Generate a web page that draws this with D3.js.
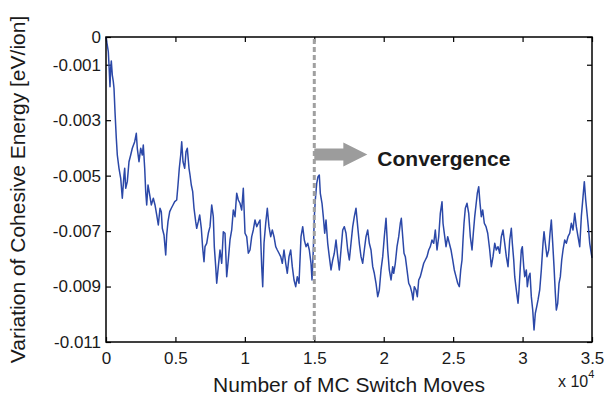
<!DOCTYPE html>
<html>
<head>
<meta charset="utf-8">
<script src="https://cdn.jsdelivr.net/npm/d3@7"></script>
<style>
  body { margin: 0; background: #fff; }
  svg { display: block; font-family: "Liberation Sans", Arial, Helvetica, sans-serif; }
</style>
</head>
<body>
<svg id="chart" width="604" height="397"></svg>
<script>
// MC switch moves
const moves = [
  0,166,216,288,338,382,454,526,576,648,
  742,814,936,1059,1174,1296,1347,1419,1534,1656,
  1779,1894,2067,2182,2254,2377,2499,2614,2686,2787,
  2859,2931,3025,3147,3262,3407,3529,3651,3767,3889,
  3983,4055,4177,4300,4372,4465,4588,4703,4825,4948,
  5092,5185,5279,5380,5452,5546,5668,5762,5855,5978,
  6050,6143,6244,6338,6460,6532,6647,6748,6864,6964,
  7058,7130,7252,7368,7490,7612,7728,7800,7901,7973,
  8088,8210,8333,8448,8570,8693,8808,8930,9053,9168,
  9291,9413,9528,9651,9773,9888,10011,10133,10249,10371,
  10493,10609,10731,10853,10969,11091,11214,11286,11379,11502,
  11617,11739,11862,11977,12099,12222,12337,12459,12582,12697,
  12819,12942,13057,13180,13302,13417,13540,13662,13777,13900,
  14044,14166,14282,14404,14526,14642,14764,14836,14930,15002,
  15074,15175,15268,15362,15434,15556,15650,15751,15844,15967,
  16082,16205,16327,16442,16565,16687,16802,16925,17047,17163,
  17285,17407,17523,17645,17767,17883,18005,18127,18243,18365,
  18487,18603,18725,18848,18963,19085,19208,19323,19445,19568,
  19683,19806,19928,20043,20166,20288,20403,20526,20648,20720,
  20835,20958,21080,21196,21268,21368,21462,21556,21678,21800,
  21916,22038,22110,22204,22326,22420,22521,22636,22758,22881,
  22996,23118,23241,23356,23478,23601,23716,23839,23961,24076,
  24199,24271,24364,24487,24609,24724,24847,24969,25084,25207,
  25329,25445,25546,25639,25711,25783,25877,25999,26122,26237,
  26359,26453,26554,26647,26741,26842,26935,27029,27130,27245,
  27368,27490,27634,27749,27872,27994,28109,28232,28354,28469,
  28592,28714,28830,28952,29074,29190,29262,29363,29435,29550,
  29672,29744,29838,29910,29982,30083,30155,30270,30342,30443,
  30536,30630,30731,30825,30918,31019,31113,31235,31350,31473,
  31545,31639,31761,31883,31977,32071,32171,32265,32359,32431,
  32531,32625,32719,32819,32913,33036,33151,33273,33396,33511,
  33633,33756,33871,33993,34116,34231,34354,34447,34548,34642,
  34735,34836,35000
]

// variation of cohesive energy, eV/ion
const energy = [
  0,-0.000530,-0.001010,-0.001792,-0.001129,-0.000865,-0.001370,-0.001612,-0.001850,-0.002694,
  -0.003653,-0.004255,-0.004735,-0.005096,-0.005817,-0.004977,-0.004735,-0.005456,-0.005218,-0.004497,
  -0.004255,-0.004014,-0.003776,-0.003473,-0.004014,-0.004497,-0.004014,-0.004255,-0.003895,-0.004735,
  -0.005579,-0.006058,-0.005337,-0.005698,-0.006058,-0.005817,-0.006058,-0.006419,-0.006780,-0.006177,
  -0.006300,-0.006899,-0.007140,-0.007862,-0.007140,-0.006661,-0.006300,-0.006177,-0.006058,-0.005939,
  -0.005878,-0.005337,-0.004735,-0.004255,-0.003776,-0.004497,-0.004735,-0.004136,-0.004014,-0.004735,
  -0.004977,-0.005337,-0.005579,-0.006177,-0.006661,-0.006899,-0.006661,-0.006419,-0.006899,-0.007620,
  -0.008103,-0.007562,-0.007440,-0.007079,-0.006841,-0.006058,-0.006480,-0.007562,-0.008283,-0.008882,
  -0.008283,-0.007681,-0.008161,-0.007021,-0.007079,-0.008644,-0.008042,-0.007321,-0.006960,-0.006239,
  -0.006480,-0.005636,-0.005878,-0.005997,-0.006239,-0.005456,-0.007079,-0.007202,-0.007800,-0.007681,
  -0.007202,-0.006960,-0.006599,-0.006841,-0.006718,-0.006599,-0.008283,-0.009005,-0.007440,-0.006718,
  -0.006177,-0.006841,-0.007202,-0.006960,-0.007202,-0.007562,-0.007681,-0.007800,-0.007923,-0.008161,
  -0.007681,-0.008161,-0.008522,-0.007923,-0.007681,-0.008283,-0.008763,-0.009005,-0.008644,-0.008882,
  -0.007202,-0.006841,-0.007321,-0.007562,-0.007440,-0.007681,-0.008161,-0.008763,-0.007681,-0.006480,
  -0.005878,-0.005276,-0.005038,-0.004977,-0.005636,-0.005997,-0.006480,-0.007079,-0.006599,-0.007440,
  -0.007923,-0.008402,-0.008042,-0.007800,-0.007321,-0.007923,-0.008402,-0.007681,-0.006960,-0.006841,
  -0.007079,-0.007681,-0.008042,-0.007440,-0.006841,-0.006480,-0.006177,-0.006841,-0.007440,-0.007923,
  -0.008161,-0.007681,-0.007202,-0.006960,-0.007440,-0.007681,-0.008283,-0.008522,-0.008882,-0.009365,
  -0.009124,-0.008402,-0.007923,-0.007202,-0.006538,-0.007681,-0.008402,-0.008763,-0.008283,-0.008522,
  -0.008161,-0.007562,-0.007202,-0.006718,-0.006538,-0.007202,-0.007800,-0.007923,-0.008402,-0.008882,
  -0.009005,-0.009243,-0.009484,-0.009005,-0.009124,-0.009365,-0.008763,-0.008644,-0.008402,-0.008161,
  -0.008042,-0.007923,-0.007681,-0.007562,-0.007321,-0.007440,-0.006960,-0.007681,-0.007202,-0.006358,
  -0.005939,-0.006718,-0.007079,-0.007562,-0.007202,-0.007440,-0.007681,-0.008042,-0.008402,-0.008644,
  -0.008882,-0.009005,-0.008402,-0.008042,-0.007321,-0.006718,-0.006177,-0.005997,-0.006358,-0.007202,
  -0.007681,-0.007079,-0.006480,-0.006058,-0.005636,-0.005398,-0.005997,-0.006480,-0.006239,-0.006718,
  -0.006841,-0.007079,-0.007681,-0.008283,-0.007923,-0.007440,-0.007681,-0.007562,-0.007800,-0.007202,
  -0.006960,-0.007440,-0.007923,-0.008283,-0.007321,-0.006899,-0.007440,-0.008042,-0.008644,-0.009124,
  -0.009603,-0.009124,-0.008283,-0.007681,-0.007562,-0.008283,-0.008644,-0.008402,-0.009005,-0.008644,
  -0.008522,-0.009365,-0.009845,-0.010566,-0.009964,-0.009726,-0.009484,-0.009124,-0.008402,-0.007440,
  -0.007021,-0.007440,-0.007923,-0.007681,-0.007079,-0.006599,-0.007440,-0.008283,-0.009243,-0.009845,
  -0.009603,-0.008882,-0.008644,-0.008042,-0.007681,-0.007321,-0.007440,-0.007202,-0.007079,-0.006718,
  -0.006960,-0.006358,-0.006841,-0.007202,-0.007562,-0.006480,-0.005759,-0.005218,-0.005878,-0.006358,
  -0.006841,-0.007440,-0.007970
]

const xTicks = [0, 5000, 10000, 15000, 20000, 25000, 30000, 35000]
const xTickLabels = ["0", "0.5", "1", "1.5", "2", "2.5", "3", "3.5"]
const yTicks = [0, -0.001, -0.003, -0.005, -0.007, -0.009, -0.011]
const yTickLabels = ["0", "-0.001", "-0.003", "-0.005", "-0.007", "-0.009", "-0.011"]

// convergence marker
const convergenceAt = 15000
const arrowEnd = 18820
const arrowLevel = -0.00424

const width = 604, height = 397
const margin = { top: 37, right: 12, bottom: 55, left: 106 }
const textColor = "#1a1a1a"

const svg = d3.select("#chart")

const x = d3.scaleLinear().domain([0, 35000]).range([margin.left, width - margin.right])
const y = d3.scaleLinear().domain([-0.011, 0]).range([height - margin.bottom, margin.top])

// axes, ticks point inward like matlab
const styleAxis = (g) => {
  g.select(".domain").remove()
  g.selectAll(".tick line").attr("stroke", "#000").attr("stroke-width", 1.2)
  g.selectAll("text").attr("fill", textColor).style("font-size", "17px")
}

svg.append("g")
  .attr("transform", `translate(0,${y(-0.011)})`)
  .call(d3.axisBottom(x).tickValues(xTicks).tickFormat((d, i) => xTickLabels[i])
    .tickSizeInner(-5).tickSizeOuter(0).tickPadding(10))
  .call(styleAxis)

svg.append("g")
  .attr("transform", `translate(0,${y(0)})`)
  .call(d3.axisTop(x).tickValues(xTicks).tickFormat("").tickSizeInner(-5).tickSizeOuter(0))
  .call(styleAxis)

svg.append("g")
  .attr("transform", `translate(${x(0)},0)`)
  .call(d3.axisLeft(y).tickValues(yTicks).tickFormat((d, i) => yTickLabels[i])
    .tickSizeInner(-5).tickSizeOuter(0).tickPadding(5))
  .call(styleAxis)

svg.append("g")
  .attr("transform", `translate(${x(35000)},0)`)
  .call(d3.axisRight(y).tickValues(yTicks).tickFormat("").tickSizeInner(-5).tickSizeOuter(0))
  .call(styleAxis)

// trace
const line = d3.line()
  .x((d, i) => x(moves[i]))
  .y((d) => y(d))

svg.append("path")
  .datum(energy)
  .attr("fill", "none")
  .attr("stroke", "#2b48a8")
  .attr("stroke-width", 1.5)
  .attr("stroke-linejoin", "round")
  .attr("d", line)

// dashed convergence line
svg.append("line")
  .attr("x1", x(convergenceAt)).attr("x2", x(convergenceAt))
  .attr("y1", y(0) + 2).attr("y2", y(-0.011) - 1)
  .attr("stroke", "#a0a0a0")
  .attr("stroke-width", 3)
  .attr("stroke-dasharray", "5,3")

// arrow
const ax0 = x(convergenceAt), ax1 = x(arrowEnd), ay = y(arrowLevel)
const headLen = 24
svg.append("path")
  .attr("fill", "#9c9c9c")
  .attr("d", `M${ax0},${ay - 6}L${ax1 - headLen},${ay - 6}L${ax1 - headLen},${ay - 12}L${ax1},${ay}` +
    `L${ax1 - headLen},${ay + 12}L${ax1 - headLen},${ay + 6}L${ax0},${ay + 6}Z`)

svg.append("text")
  .attr("x", ax1 + 10)
  .attr("y", ay + 11)
  .attr("fill", textColor)
  .style("font-size", "21px")
  .style("font-weight", "bold")
  .text("Convergence")

// box
svg.append("rect")
  .attr("x", x(0)).attr("y", y(0))
  .attr("width", x(35000) - x(0)).attr("height", y(-0.011) - y(0))
  .attr("fill", "none")
  .attr("stroke", "#000")
  .attr("stroke-width", 1.5)

// axis labels
svg.append("text")
  .attr("x", (x(0) + x(35000)) / 2)
  .attr("y", 392)
  .attr("text-anchor", "middle")
  .attr("fill", textColor)
  .style("font-size", "21px")
  .text("Number of MC Switch Moves")

const exp = svg.append("text")
  .attr("x", 558)
  .attr("y", 387)
  .attr("fill", textColor)
  .style("font-size", "16px")
exp.append("tspan").text("x 10")
exp.append("tspan").attr("dy", -9).style("font-size", "11px").text("4")

svg.append("text")
  .attr("transform", `translate(25,${(y(0) + y(-0.011)) / 2}) rotate(-90)`)
  .attr("text-anchor", "middle")
  .attr("fill", textColor)
  .style("font-size", "21px")
  .text("Variation of Cohesive Energy [eV/ion]")
</script>
</body>
</html>
